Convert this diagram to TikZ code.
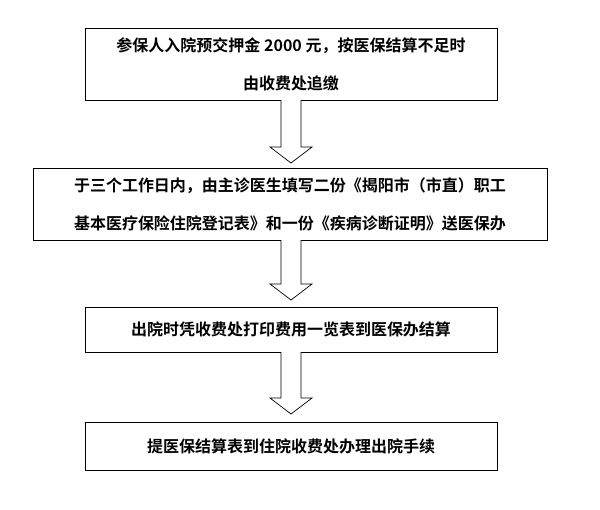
\documentclass[tikz,border=0pt]{standalone}
\usepackage{fontspec}
\newfontfamily\cjk{Noto Sans CJK SC}[BoldFont={Noto Sans CJK SC Bold}]
\begin{document}
\begin{tikzpicture}[x=1pt,y=-1pt,
  box/.style={draw,line width=0.8pt,align=center,font=\cjk\bfseries\fontsize{16}{38}\selectfont,inner sep=0pt},
  harrow/.style={draw,line width=0.7pt,fill=white}]
\useasboundingbox (0,0) rectangle (600,509);
\node[box,minimum width=412,minimum height=72] (b1) at (291,64) {参保人入院预交押金 2000 元，按医保结算不足时\\由收费处追缴};
\node[box,minimum width=514,minimum height=72] (b2) at (290,204) {于三个工作日内，由主诊医生填写二份《揭阳市（市直）职工\\基本医疗保险住院登记表》和一份《疾病诊断证明》送医保办};
\node[box,minimum width=412,minimum height=45] (b3) at (291,329.5) {出院时凭收费处打印费用一览表到医保办结算};
\node[box,minimum width=412,minimum height=48] (b4) at (291,446) {提医保结算表到住院收费处办理出院手续};
\foreach \ya/\yh/\yt in {100/147/163, 240/284/300, 352/398/414}{
  \draw[harrow] (281,\ya) -- (281,\yh) -- (270,\yh) -- (291,\yt) -- (312,\yh) -- (301,\yh) -- (301,\ya);
}
\end{tikzpicture}
\end{document}
